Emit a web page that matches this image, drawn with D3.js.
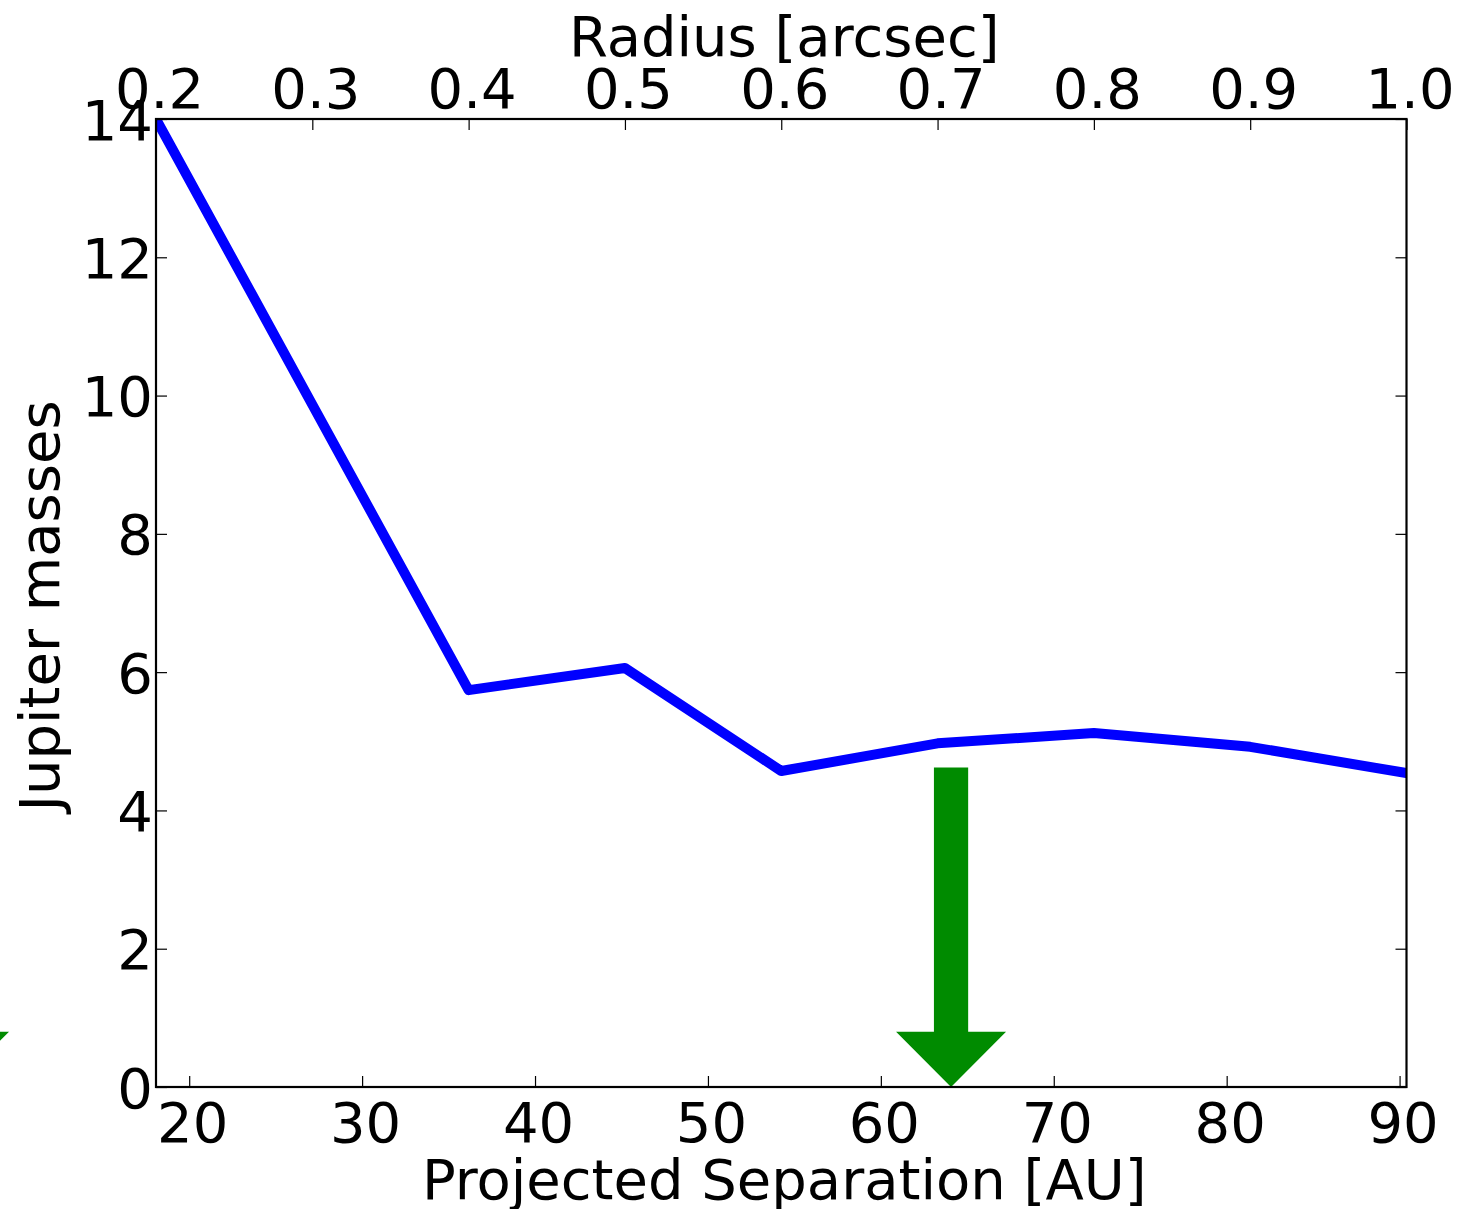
<!DOCTYPE html>
<html>
<head>
<meta charset="utf-8">
<script src="https://cdn.jsdelivr.net/npm/d3@7"></script>
<style>
  html, body { margin: 0; padding: 0; background: #fff; }
  svg { display: block; }
  text { font-family: "DejaVu Sans", sans-serif; fill: #000; }
</style>
</head>
<body>
<svg id="chart" width="1462" height="1209"></svg>
<script>
// ---------------- data ----------------
const radiusArcsec = [0.2, 0.3, 0.4, 0.5, 0.6, 0.7, 0.8, 0.9, 1.0];
const jupiterMasses = [14.0, 9.87, 5.74, 6.06, 4.57, 4.97, 5.12, 4.92, 4.54];
const distancePc = 90.4;                       // AU = arcsec * pc
const topTickValues = [0.2, 0.3, 0.4, 0.5, 0.6, 0.7, 0.8, 0.9, 1.0];
const bottomTickValues = [20, 30, 40, 50, 60, 70, 80, 90];
const yTickValues = [0, 2, 4, 6, 8, 10, 12, 14];
const arrowSeparationAU = [6.4, 64.06];        // arrow positions (AU)
const arrowStartMass = [4.62, 4.62];           // arrow tail (Jupiter masses)
const arrowEndMass = [0.0, 0.0];               // arrow tip
const labels = {
  top: "Radius [arcsec]",
  bottom: "Projected Separation [AU]",
  left: "Jupiter masses"
};

// ---------------- layout ----------------
const W = 1462, H = 1209;
const plot = { left: 156, right: 1406.5, top: 119, bottom: 1087 };
const fontSize = 56;
const tickLen = 11;
const shaftWidthAU = 1.98, headWidthAU = 6.36, headLenMass = 0.8;

const svg = d3.select("#chart");
svg.append("rect").attr("width", W).attr("height", H).attr("fill", "#fff");

const xTop = d3.scaleLinear().domain([0.2, 1.0]).range([plot.left, plot.right]);
const xBottom = d3.scaleLinear().domain([0.2 * distancePc, 1.0 * distancePc]).range([plot.left, plot.right]);
const y = d3.scaleLinear().domain([0, 14]).range([plot.bottom, plot.top]);

// clip
svg.append("defs").append("clipPath").attr("id", "plotClip")
  .append("rect")
  .attr("x", plot.left).attr("y", plot.top)
  .attr("width", plot.right - plot.left).attr("height", plot.bottom - plot.top);

// line
const pts = radiusArcsec.map((r, i) => [r, jupiterMasses[i]]);
svg.append("path")
  .datum(pts)
  .attr("clip-path", "url(#plotClip)")
  .attr("fill", "none")
  .attr("stroke", "#0000ff")
  .attr("stroke-width", 10)
  .attr("stroke-linejoin", "round")
  .attr("stroke-linecap", "square")
  .attr("d", d3.line().x(d => xTop(d[0])).y(d => y(d[1])));

// arrows
const arrowData = arrowSeparationAU.map((a, i) => ({ x: a, y0: arrowStartMass[i], y1: arrowEndMass[i] }));
svg.append("g").selectAll("path")
  .data(arrowData)
  .join("path")
  .attr("fill", "#008b00")
  .attr("stroke", "none")
  .attr("d", d => {
    const cx = xBottom(d.x);
    const hs = (xBottom(d.x + shaftWidthAU / 2) - xBottom(d.x));
    const hh = (xBottom(d.x + headWidthAU / 2) - xBottom(d.x));
    const yTail = y(d.y0), yTip = y(d.y1), yBase = y(d.y1 + headLenMass);
    return `M${cx - hs},${yTail} L${cx + hs},${yTail} L${cx + hs},${yBase} L${cx + hh},${yBase} ` +
           `L${cx},${yTip} L${cx - hh},${yBase} L${cx - hs},${yBase} Z`;
  });

// axes (ticks inward)
function styleAxis(g) {
  g.select(".domain").remove();
  g.selectAll(".tick line").attr("stroke", "#000").attr("stroke-width", 1.2);
  g.selectAll(".tick text").attr("font-size", fontSize).attr("font-family", "DejaVu Sans").attr("fill", "#000");
}

// bottom
const gB = svg.append("g").attr("transform", `translate(0,${plot.bottom})`)
  .call(d3.axisBottom(xBottom).tickValues(bottomTickValues).tickSize(-tickLen).tickFormat(d3.format("d")));
styleAxis(gB);
gB.selectAll(".tick text").attr("y", 55).attr("dy", 0).attr("dx", 3);

// top
const gT = svg.append("g").attr("transform", `translate(0,${plot.top})`)
  .call(d3.axisTop(xTop).tickValues(topTickValues).tickSize(-tickLen).tickFormat(d3.format(".1f")));
styleAxis(gT);
gT.selectAll(".tick text").attr("y", -11).attr("dy", 0).attr("dx", 3);

// left
const gL = svg.append("g").attr("transform", `translate(${plot.left},0)`)
  .call(d3.axisLeft(y).tickValues(yTickValues).tickSize(-tickLen).tickFormat(d3.format("d")));
styleAxis(gL);
gL.selectAll(".tick text").attr("x", -3).attr("dy", 20);

// right (ticks only)
const gR = svg.append("g").attr("transform", `translate(${plot.right},0)`)
  .call(d3.axisRight(y).tickValues(yTickValues).tickSize(-tickLen).tickFormat(""));
styleAxis(gR);

// frame
svg.append("rect")
  .attr("x", plot.left).attr("y", plot.top)
  .attr("width", plot.right - plot.left).attr("height", plot.bottom - plot.top)
  .attr("fill", "none").attr("stroke", "#000").attr("stroke-width", 2.2);

// axis labels
const cx = (plot.left + plot.right) / 2;
svg.append("text").attr("x", cx + 3).attr("y", 56).attr("text-anchor", "middle")
  .attr("font-size", fontSize).text(labels.top);
svg.append("text").attr("x", cx + 3).attr("y", 1199).attr("text-anchor", "middle")
  .attr("font-size", fontSize).text(labels.bottom);
svg.append("text")
  .attr("transform", `translate(59,${(plot.top + plot.bottom) / 2 + 3}) rotate(-90)`)
  .attr("text-anchor", "middle")
  .attr("font-size", fontSize).text(labels.left);
</script>
</body>
</html>
